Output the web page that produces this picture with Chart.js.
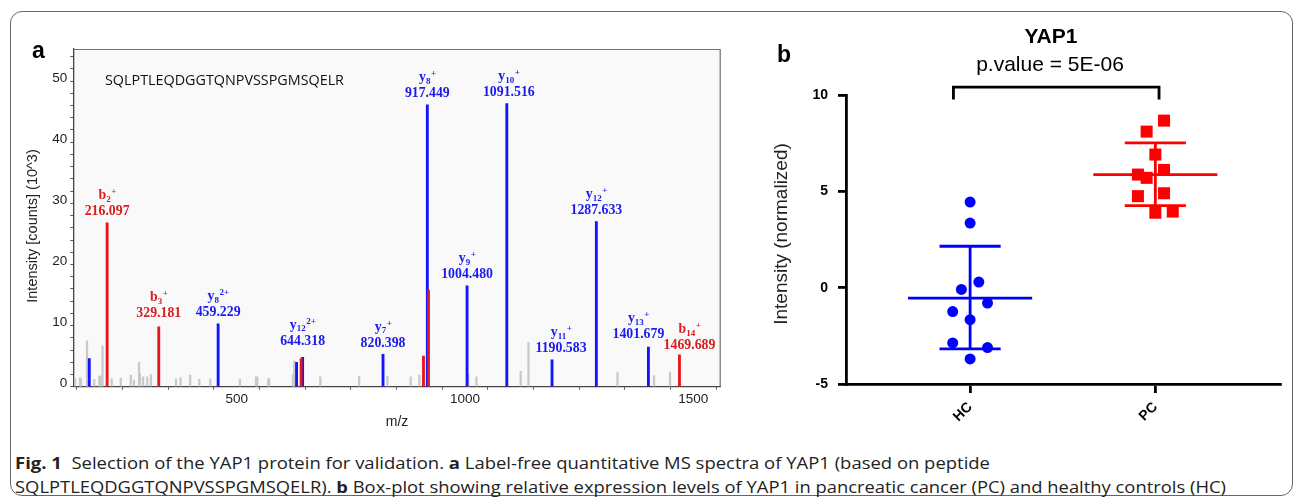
<!DOCTYPE html>
<html>
<head>
<meta charset="utf-8">
<script src="https://cdn.jsdelivr.net/npm/chart.js@4.4.0/dist/chart.umd.min.js"></script>
<style>
  body { margin: 0; width: 1295px; height: 498px; background: #fff; position: relative; overflow: hidden; }
  #frame { position: absolute; left: 10px; top: 11px; width: 1283px; height: 485px; box-sizing: border-box;
           border: 1.5px solid #666; border-radius: 12px; }
  canvas { position: absolute; top: 0; }
  .cap { position: absolute; left: 15px; white-space: nowrap; font: 15.5px "Open Sans", sans-serif; color: #222;
         line-height: 20px; transform-origin: left center; display: inline-block; }
</style>
</head>
<body>
<div id="frame"></div>
<canvas id="specChart" width="740" height="440" style="left:0"></canvas>
<canvas id="yapChart" width="555" height="440" style="left:740px"></canvas>
<div class="cap" id="cap1" style="top:453px"><b>Fig. 1</b>&nbsp;&nbsp;Selection of the YAP1 protein for validation. <b>a</b> Label-free quantitative MS spectra of YAP1 (based on peptide</div>
<div class="cap" id="cap2" style="top:477px">SQLPTLEQDGGTQNPVSSPGMSQELR). <b>b</b> Box-plot showing relative expression levels of YAP1 in pancreatic cancer (PC) and healthy controls (HC)</div>
<script>
// ---- panel a : MS/MS spectrum ----
const peptide = 'SQLPTLEQDGGTQNPVSSPGMSQELR';

// annotated y ions (blue)
const yIonMz = [459.229, 644.318, 820.398, 917.449, 1004.480, 1091.516, 1190.583, 1287.633, 1401.679];
const yIonIntensity = [10.3, 4.8, 5.3, 46.1, 16.5, 46.3, 4.4, 27.0, 6.5];
const yIonNumber = ['8', '12', '7', '8', '9', '10', '11', '12', '13'];
const yIonCharge = ['2+', '2+', '+', '+', '+', '+', '+', '+', '+'];

// annotated b ions (red)
const bIonMz = [216.097, 329.181, 1469.689];
const bIonIntensity = [26.8, 9.8, 5.2];
const bIonNumber = ['2', '3', '14'];
const bIonCharge = ['+', '+', '+'];

// matched but unlabelled peaks
const blueExtraMz = [177, 631];
const blueExtraIntensity = [4.6, 4.0];
const redExtraMz = [641, 909, 920];
const redExtraIntensity = [4.6, 5.0, 15.8];

// unmatched peaks (grey)
const greyMz = [146, 157, 159, 172, 174, 188, 199, 202, 206, 226, 246, 268, 275, 286, 288, 295, 304, 312,
  367, 377, 398, 418, 442, 507, 542, 545, 569, 571, 623, 626, 683, 768, 830, 881, 900, 1007, 1025,
  1122, 1139, 1334, 1414, 1449];
const greyIntensity = [1.3, 1.5, 1.2, 7.5, 2.2, 1.2, 1.75, 1.75, 6.7, 1.3, 1.4, 1.9, 1.1, 4.0, 2.1, 1.6, 1.6, 2.0,
  1.3, 1.5, 1.9, 1.2, 1.3, 1.2, 1.6, 1.6, 1.3, 1.3, 2.0, 4.2, 1.6, 1.7, 1.7, 1.6, 1.9, 2.0, 1.6,
  2.5, 7.2, 2.4, 1.8, 2.4];

// label nudges in px (dx, dy), so crowded labels don't sit right on the peak
const yLabelShift = [[0, 0], [0, -5], [0, 0], [0, 0], [0, 0], [2, 0], [9, 0], [0, 0], [-10, -1]];
const bLabelShift = [[0, 0], [0, -2], [10, 2]];

// ---- panel b : YAP1 intensities ----
const groups = ['HC', 'PC'];
const hcValues = [4.44, 3.35, 0.29, -0.09, -0.80, -1.24, -1.66, -2.87, -3.11, -3.70];
const hcJitter = [0, 0, 0.047, -0.047, 0.094, -0.094, 0, -0.094, 0.094, 0];
const pcValues = [8.67, 8.10, 6.91, 6.11, 5.87, 5.70, 4.90, 4.75, 3.89, 3.95];
const pcJitter = [0.047, -0.047, 0, 0.047, -0.094, -0.047, 0.047, -0.094, 0, 0.094];
const groupMean = [-0.54, 5.87];
const groupSdUpper = [2.15, 7.51];
const groupSdLower = [-3.18, 4.26];
const pValueText = 'p.value = 5E-06';

const SANS = '"Liberation Sans", Arial, sans-serif';
const SERIF = '"Liberation Serif", "Times New Roman", serif';
const BLUE_TXT = '#1a1aee';
const RED_TXT = '#d91c1c';

const toPts = (xs, ys) => xs.map((x, i) => ({ x: x, y: ys[i] }));

function drawIonLabel(ctx, cx, top, letter, num, charge, mz, color) {
  ctx.fillStyle = color;
  ctx.textBaseline = 'alphabetic';
  const big = 'bold 13.8px ' + SERIF;
  const small = 'bold 9px ' + SERIF;
  ctx.font = big;
  ctx.textAlign = 'center';
  ctx.fillText(mz.toFixed(3), cx, top - 7.5);
  const wl = ctx.measureText(letter).width;
  ctx.font = small;
  const wn = ctx.measureText(num).width;
  const wc = ctx.measureText(charge).width;
  const sx = cx - (wl + wn + wc) / 2;
  const base = top - 23.5;
  ctx.textAlign = 'left';
  ctx.font = big;
  ctx.fillText(letter, sx, base);
  ctx.font = small;
  ctx.fillText(num, sx + wl, base + 2.5);
  ctx.fillText(charge, sx + wl + wn + 0.5, base - 5);
}

const specDecor = {
  id: 'specDecor',
  beforeDraw(chart) {
    const { ctx, chartArea: a } = chart;
    ctx.save();
    ctx.fillStyle = '#f9f9f9';
    ctx.fillRect(a.left, a.top, a.right - a.left, a.bottom - a.top);
    ctx.restore();
  },
  afterDatasetsDraw(chart) {
    const { ctx, chartArea: a, scales: { x, y } } = chart;
    ctx.save();
    // top / right frame of the plot box
    ctx.strokeStyle = '#707070';
    ctx.lineWidth = 1.2;
    ctx.beginPath();
    ctx.moveTo(a.left, a.top + 0.5);
    ctx.lineTo(a.right - 0.5, a.top + 0.5);
    ctx.lineTo(a.right - 0.5, a.bottom);
    ctx.stroke();

    yIonMz.forEach((mz, i) => {
      drawIonLabel(ctx, x.getPixelForValue(mz) + yLabelShift[i][0],
        y.getPixelForValue(yIonIntensity[i]) + yLabelShift[i][1],
        'y', yIonNumber[i], yIonCharge[i], mz, BLUE_TXT);
    });
    bIonMz.forEach((mz, i) => {
      drawIonLabel(ctx, x.getPixelForValue(mz) + bLabelShift[i][0],
        y.getPixelForValue(bIonIntensity[i]) + bLabelShift[i][1],
        'b', bIonNumber[i], bIonCharge[i], mz, RED_TXT);
    });

    // panel letter
    ctx.fillStyle = '#000';
    ctx.textAlign = 'center';
    ctx.textBaseline = 'alphabetic';
    ctx.font = 'bold 23px ' + SANS;
    ctx.fillText('a', 38.5, 58.3);

    // peptide sequence, sized to its width in the figure
    ctx.font = '14px "Open Sans", sans-serif';
    const fs = 14 * 239 / ctx.measureText(peptide).width;
    ctx.font = fs.toFixed(2) + 'px "Open Sans", sans-serif';
    ctx.textAlign = 'left';
    ctx.textBaseline = 'middle';
    ctx.fillStyle = '#111';
    ctx.fillText(peptide, 105, 81);

    // y title
    ctx.translate(33.3, 226);
    ctx.rotate(-Math.PI / 2);
    ctx.textAlign = 'center';
    ctx.fillStyle = '#222';
    ctx.font = '14.5px ' + SANS;
    ctx.fillText('Intensity [counts] (10^3)', 0, 0);
    ctx.restore();
  }
};

new Chart(document.getElementById('specChart'), {
  type: 'bar',
  data: {
    datasets: [
      { label: 'b ions', data: toPts(bIonMz.concat(redExtraMz), bIonIntensity.concat(redExtraIntensity)),
        backgroundColor: '#e3191c', barThickness: 2.2 },
      { label: 'y ions', data: toPts(yIonMz.concat(blueExtraMz), yIonIntensity.concat(blueExtraIntensity)),
        backgroundColor: '#1414ff', barThickness: 2.2 },
      { label: 'other', data: toPts(greyMz, greyIntensity),
        backgroundColor: '#c9c9c9', barThickness: 1.6 }
    ]
  },
  options: {
    responsive: false,
    animation: false,
    devicePixelRatio: 1,
    layout: { padding: { top: 49, right: 19.3, left: 0, bottom: 0 } },
    datasets: { bar: { grouped: false } },
    plugins: { legend: { display: false }, tooltip: { enabled: false } },
    scales: {
      x: {
        type: 'linear', min: 142, max: 1560, offset: false,
        grid: { drawOnChartArea: false, tickLength: 3, color: '#555' },
        border: { color: '#444', width: 1.3 },
        ticks: {
          stepSize: 100, includeBounds: false, autoSkip: false, maxRotation: 0, padding: 1,
          color: '#222', font: { family: SANS, size: 13.5 },
          callback: v => (v % 500 === 0 ? v : '')
        },
        title: { display: true, text: 'm/z', color: '#222', font: { family: SANS, size: 14 },
                 padding: { top: 0, bottom: 9.6 } },
        afterFit: s => { s.height = 53.3; }
      },
      y: {
        min: 0, max: 55.25,
        grid: { drawOnChartArea: false, tickLength: 3, color: '#555' },
        border: { color: '#444', width: 1.3 },
        ticks: {
          stepSize: 2, includeBounds: false, autoSkip: false, padding: 3, labelOffset: -3,
          color: '#222', font: { family: SANS, size: 13.5 },
          callback: v => (v % 10 === 0 ? v : '')
        },
        afterFit: s => { s.width = 73.3; }
      }
    }
  },
  plugins: [specDecor]
});

// ---- panel b ----
function errorBarPoints(g) {
  const m = groupMean[g], hi = groupSdUpper[g], lo = groupSdLower[g];
  return [
    { x: g - 0.335, y: m }, { x: g + 0.335, y: m }, { x: g, y: null },
    { x: g - 0.165, y: hi }, { x: g + 0.165, y: hi }, { x: g, y: null },
    { x: g - 0.165, y: lo }, { x: g + 0.165, y: lo }, { x: g, y: null },
    { x: g, y: hi }, { x: g, y: lo }
  ];
}

const yapDecor = {
  id: 'yapDecor',
  afterDraw(chart) {
    const { ctx } = chart;
    ctx.save();
    ctx.fillStyle = '#000';
    ctx.textAlign = 'center';
    ctx.textBaseline = 'alphabetic';
    ctx.font = 'bold 23px ' + SANS;
    ctx.fillText('b', 44, 61.7);
    ctx.font = 'bold 21px ' + SANS;
    ctx.fillText('YAP1', 311, 43);
    ctx.font = '21px ' + SANS;
    ctx.fillText(pValueText, 310, 71);
    ctx.translate(41.6, 234);
    ctx.rotate(-Math.PI / 2);
    ctx.textBaseline = 'middle';
    ctx.fillStyle = '#222';
    ctx.font = '19px ' + SANS;
    ctx.fillText('Intensity (normalized)', 0, 0);
    ctx.restore();
  }
};

new Chart(document.getElementById('yapChart'), {
  type: 'scatter',
  data: {
    datasets: [
      { label: 'HC', data: hcValues.map((v, i) => ({ x: 0 + hcJitter[i], y: v })),
        pointStyle: 'circle', pointRadius: 5.5, backgroundColor: '#0000ff', borderWidth: 0 },
      { label: 'PC', data: pcValues.map((v, i) => ({ x: 1 + pcJitter[i], y: v })),
        pointStyle: 'rect', pointRadius: 8.5, backgroundColor: '#ff0000', borderWidth: 0 },
      { label: 'HC mean ± SD', data: errorBarPoints(0), showLine: true, pointRadius: 0,
        borderColor: '#0000ff', borderWidth: 2.8, spanGaps: false },
      { label: 'PC mean ± SD', data: errorBarPoints(1), showLine: true, pointRadius: 0,
        borderColor: '#ff0000', borderWidth: 2.8, spanGaps: false },
      { label: 'comparison', data: [{ x: -0.09, y: 9.76 }, { x: -0.09, y: 10.41 }, { x: 1.02, y: 10.41 }, { x: 1.02, y: 9.76 }],
        showLine: true, pointRadius: 0, borderColor: '#000', borderWidth: 2.8, clip: false }
    ]
  },
  options: {
    responsive: false,
    animation: false,
    devicePixelRatio: 1,
    layout: { padding: { top: 95, right: 15, left: 0, bottom: 0 } },
    plugins: { legend: { display: false }, tooltip: { enabled: false } },
    scales: {
      x: {
        type: 'linear', min: -0.67, max: 1.673,
        afterBuildTicks: s => { s.ticks = groups.map((g, i) => ({ value: i })); },
        grid: { drawOnChartArea: false, tickLength: 9, color: '#000', lineWidth: 2.8 },
        border: { color: '#000', width: 2.8 },
        ticks: { autoSkip: false, minRotation: 45, maxRotation: 45, padding: 6, color: '#000',
                 font: { family: SANS, size: 14, weight: 'bold' },
                 callback: v => groups[v] },
        afterFit: s => { s.height = 56; }
      },
      y: {
        min: -5, max: 10,
        grid: { drawOnChartArea: false, tickLength: 8, color: '#000', lineWidth: 2.8 },
        border: { color: '#000', width: 2.8 },
        ticks: { stepSize: 5, padding: 10, color: '#000', font: { family: SANS, size: 14, weight: 'bold' } },
        afterFit: s => { s.width = 106; }
      }
    }
  },
  plugins: [yapDecor]
});

// squeeze the caption lines to the widths they take in the figure
[['cap1', 975], ['cap2', 1211]].forEach(([id, target]) => {
  const el = document.getElementById(id);
  const w = el.getBoundingClientRect().width;
  el.style.transform = 'scaleX(' + (target / w).toFixed(4) + ')';
});
</script>
</body>
</html>
